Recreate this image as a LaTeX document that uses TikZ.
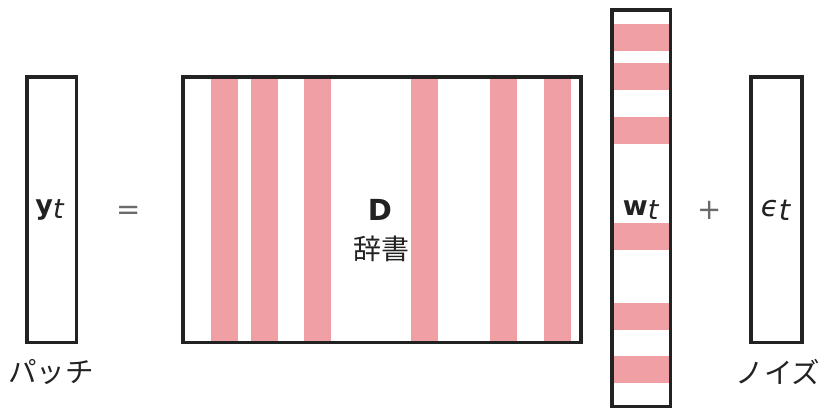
\documentclass[tikz,border=0pt]{standalone}
\usepackage{fontspec}
\setmainfont{DejaVu Sans}
\newfontfamily\jp{Noto Sans CJK JP}
\definecolor{stripe}{HTML}{F0A0A4}
\definecolor{ink}{HTML}{222222}
\definecolor{opgray}{HTML}{6A6A6A}
\begin{document}
\begin{tikzpicture}[x=1pt,y=-1pt,
  box/.style={draw=ink,line width=3.6pt,fill=none,inner sep=0pt},
  lab/.style={inner sep=0pt,text=ink,font=\jp\fontsize{28.5}{28.5}\selectfont},
  sym/.style={inner sep=0pt,text=ink,font=\fontsize{27}{27}\selectfont},
  op/.style={inner sep=0pt,text=opgray,font=\fontsize{29}{29}\selectfont},
  band/.style={fill=stripe,draw=none}]
\useasboundingbox (0,0) rectangle (821,409);
% stripes of D
\foreach \a/\b in {211/238,251/278,304/331,411/438,490/517,544/571}
  \fill[band] (\a,77) rectangle (\b,342.5);
% stripes of w
\foreach \a/\b in {24/51,63/90,117/144,223/250,303/330,356/383}
  \fill[band] (612,\a) rectangle (670.5,\b);
% boxes
\node[box,minimum width=49.5pt,minimum height=265.7pt] (ybox) at (51.55,209.65) {};
\node[box,minimum width=398pt,minimum height=265.5pt] (dbox) at (382,209.75) {};
\node[box,minimum width=58.5pt,minimum height=396.1pt] (wbox) at (641.25,208.25) {};
\node[box,minimum width=51pt,minimum height=265.5pt] (ebox) at (776.5,209.75) {};
% symbols
\node[sym] (yt) at (50,210) {\textbf{y}\raisebox{-0.25ex}{\textit{t}}};
\node[op,anchor=base] (eq) at (129,219) {=};
\node[sym,font=\bfseries\fontsize{29}{29}\selectfont] (D) at (380,210) {D};
\node[lab,font=\jp\fontsize{28}{28}\selectfont] (jisho) at (381,249) {辞書};
\node[sym] (wt) at (641,210) {\textbf{w}\raisebox{-0.25ex}{\textit{t}}};
\node[op] (plus) at (710,210) {+};
\node[sym,font=\fontsize{29}{29}\selectfont] (et) at (776,210) {\textit{ϵ}\raisebox{-0.25ex}{\textit{t}}};
% labels
\node[lab] (patch) at (51,372) {パッチ};
\node[lab] (noise) at (778,372) {ノイズ};
\end{tikzpicture}
\end{document}
